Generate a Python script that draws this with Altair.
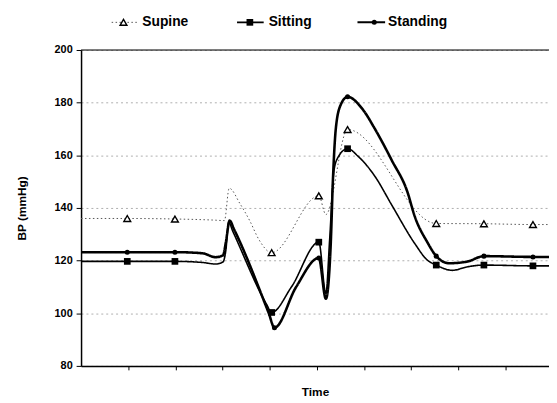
import altair as alt
import pandas as pd

FONT = "Liberation Sans"

series_names = ["Supine", "Sitting", "Standing"]

supine_time = [0.00, 0.98, 1.99, 2.80, 3.04, 3.14, 3.37, 3.58, 3.77, 4.04, 5.04, 5.19, 5.65, 7.53, 8.54, 9.58, 9.94]
supine_bp = [136.0, 136.0, 135.8, 135.4, 135.2, 147.5, 141.6, 135.0, 128.0, 123.0, 144.6, 137.5, 169.8, 134.1, 134.0, 133.7, 133.7]
supine_marked = [0, 1, 1, 0, 0, 0, 0, 0, 0, 1, 1, 0, 1, 1, 1, 1, 0]

sitting_time = [0.00, 0.98, 1.99, 2.57, 2.85, 3.01, 3.07, 3.13, 3.22, 3.93, 4.04, 4.46, 5.04, 5.19,
                5.27, 5.36, 5.44, 5.65, 5.88, 6.23, 6.59, 7.07, 7.34, 7.53, 7.87, 8.18, 8.54, 9.58, 9.94]
sitting_bp = [119.7, 119.7, 119.7, 119.3, 118.7, 119.5, 124.0, 134.5, 131.0, 103.5, 100.3, 110.0, 127.0, 107.5,
              128.0, 154.0, 159.0, 162.5, 159.5, 152.0, 141.0, 126.6, 120.2, 118.3, 116.3, 117.6, 118.3, 118.0, 118.0]
sitting_marked = [0, 1, 1, 0, 0, 0, 0, 0, 0, 0, 1, 0, 1, 0,
                  0, 0, 0, 1, 0, 0, 0, 0, 0, 1, 0, 0, 1, 1, 0]

standing_time = [0.00, 0.98, 1.99, 2.57, 2.85, 3.01, 3.07, 3.15, 3.24, 3.98, 4.10, 4.56, 5.04, 5.19,
                 5.29, 5.34, 5.40, 5.50, 5.65, 5.96, 6.23, 6.59, 6.92, 7.07, 7.34, 7.53, 7.80, 8.18, 8.54, 9.58, 9.94]
standing_bp = [123.2, 123.2, 123.2, 122.8, 121.3, 122.0, 127.0, 135.2, 132.0, 100.0, 94.5, 110.0, 121.0, 105.5,
               125.0, 151.0, 170.0, 179.0, 182.2, 177.7, 170.0, 158.0, 146.0, 137.0, 127.0, 121.7, 119.0, 119.6, 121.7, 121.4, 121.4]
standing_marked = [0, 1, 1, 0, 0, 0, 0, 0, 0, 0, 1, 0, 1, 0,
                   0, 0, 0, 0, 1, 0, 0, 0, 0, 0, 0, 1, 0, 0, 1, 1, 0]

y_ticks = [80, 100, 120, 140, 160, 180, 200]
x_ticks = [1, 2, 3, 4, 5, 6, 7, 8, 9]
top_border = [200]


def frame(name, t, bp, mk):
    return pd.DataFrame({"series": name, "t": t, "bp": bp, "marked": mk})


frames = {
    "Supine": frame("Supine", supine_time, supine_bp, supine_marked),
    "Sitting": frame("Sitting", sitting_time, sitting_bp, sitting_marked),
    "Standing": frame("Standing", standing_time, standing_bp, standing_marked),
}

styles = {
    "Supine": dict(width=1.0, dash=[1.5, 2.5], color="#555555", shape="triangle-up", size=48, filled=False),
    "Sitting": dict(width=1.6, dash=[1, 0], color="black", shape="square", size=46, filled=True),
    "Standing": dict(width=2.6, dash=[1, 0], color="black", shape="circle", size=26, filled=True),
}

x_enc = alt.X("t:Q", scale=alt.Scale(domain=[0, 9.92], nice=False, zero=False),
              axis=alt.Axis(title="Time", labels=False, values=x_ticks, tickSize=4, tickColor="black",
                            tickWidth=1, domainColor="black", domainWidth=1.5, grid=False,
                            titleFont=FONT, titleFontSize=12, titleFontWeight="bold", titleColor="black",
                            titlePadding=16))
y_axis = alt.Axis(title="BP (mmHg)", values=y_ticks, format="d", tickSize=5, tickColor="black",
                  tickWidth=1, domainColor="black", domainWidth=1.5,
                  labelFont=FONT, labelFontSize=11, labelFontWeight="bold", labelColor="black",
                  labelPadding=4, grid=True, gridColor="#999999", gridDash=[2, 3], gridWidth=0.8,
                  titleFont=FONT, titleFontSize=12, titleFontWeight="bold", titleColor="black",
                  titlePadding=26)
y_scale = alt.Scale(domain=[80, 200], nice=False, zero=False)
y_enc = alt.Y("bp:Q", scale=y_scale, axis=y_axis)

layers = []

for name in series_names:
    st = styles[name]
    df = frames[name]
    layers.append(alt.Chart(df).mark_line(interpolate="monotone", color=st["color"],
                                          strokeWidth=st["width"], strokeDash=st["dash"]).encode(x=x_enc, y=y_enc))

# top border of plot area at 200
layers.append(alt.Chart(pd.DataFrame({"bp": top_border})).mark_rule(color="black", strokeWidth=1).encode(
    y=y_enc))

for name in series_names:
    st = styles[name]
    df = frames[name]
    layers.append(alt.Chart(df).transform_filter("datum.marked == 1").mark_point(
        shape=st["shape"], size=st["size"], filled=st["filled"], color="black",
        fill="black" if st["filled"] else "white", strokeWidth=1.4 if not st["filled"] else 1,
        opacity=1).encode(x=x_enc, y=y_enc))

# legend (layout positions in view pixels, above the plot)
legend_pos = {
    "Supine": dict(x1=31, x2=58, mx=43, tx=62),
    "Sitting": dict(x1=158, x2=185, mx=171, tx=190),
    "Standing": dict(x1=280, x2=308, mx=297, tx=311),
}
LY = -28
for name in series_names:
    st = styles[name]
    p = legend_pos[name]
    ld = pd.DataFrame({"series": [name]})
    layers.append(alt.Chart(ld).mark_rule(color=st["color"], strokeWidth=min(st["width"], 2.0),
                                          strokeDash=st["dash"]).encode(
        x=alt.value(p["x1"]), x2=alt.value(p["x2"]), y=alt.value(LY)))
    layers.append(alt.Chart(ld).mark_point(shape=st["shape"], size=st["size"], filled=st["filled"],
                                           color="black", fill="black" if st["filled"] else "white",
                                           strokeWidth=1.4 if not st["filled"] else 1, opacity=1).encode(
        x=alt.value(p["mx"]), y=alt.value(LY)))
    layers.append(alt.Chart(ld).mark_text(align="left", baseline="middle", font=FONT, fontSize=14,
                                          fontWeight="bold", color="black").encode(
        x=alt.value(p["tx"]), y=alt.value(LY), text="series:N"))

chart = alt.layer(*layers).properties(
    width=474, height=320,
    padding={"left": 74, "top": 40, "right": 0, "bottom": 32},
    autosize=alt.AutoSizeParams(type="none"),
).configure_view(stroke=None).configure(background="white")

chart.save("out.html", embed_options={"renderer": "svg", "actions": False})
